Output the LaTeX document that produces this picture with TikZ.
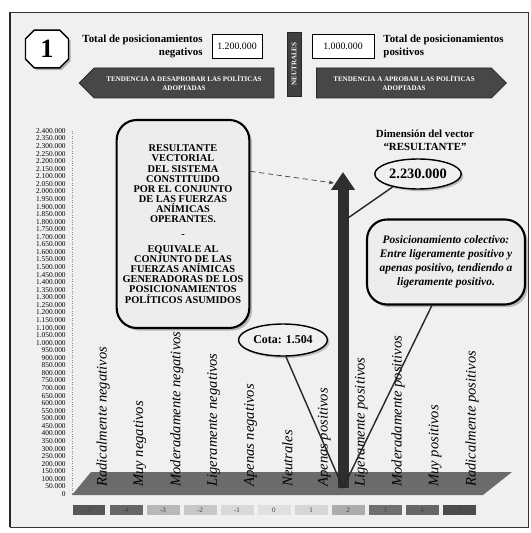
\documentclass[tikz,border=0pt]{standalone}
\usepackage{fontspec}
\setmainfont{Liberation Serif}
\usetikzlibrary{arrows.meta,positioning,shapes.geometric,shapes.misc,shapes.symbols,shadows}

% axis value: #1 millions, #2 thousands
\newcommand{\axisval}[2]{%
  \ifnum#1=0 #2.000%
  \else\ifnum#2=0 #1.000.000%
  \else\ifnum#2<100 #1.0#2.000%
  \else #1.#2.000\fi\fi\fi}

\begin{document}
\begin{tikzpicture}[
  x=0.02cm, y=-0.02cm,
  badge/.style={draw, thick, chamfered rectangle, chamfered rectangle xsep=2.5pt, chamfered rectangle ysep=2.5pt, fill=white, minimum width=0.86cm, minimum height=0.74cm, font=\fontsize{15}{15}\selectfont\bfseries, drop shadow={shadow xshift=1.2pt, shadow yshift=-1.2pt, fill=black!55}},
  toptext/.style={inner sep=0pt, font=\fontsize{6.2}{7.4}\selectfont\bfseries},
  sumbox/.style={draw, fill=white, minimum height=0.48cm, inner sep=1pt, font=\fontsize{5.6}{6}\selectfont},
  banner/.style={signal, draw=black!85, fill=black!72, text=white, align=center, minimum height=0.6cm, inner sep=1pt, font=\fontsize{4}{4.8}\selectfont\bfseries},
  callout/.style={draw, very thick, rounded corners=0.4cm, fill=black!7, align=center, drop shadow={shadow xshift=1.5pt, shadow yshift=-1.5pt, fill=black!50}},
  oval/.style={draw, thick, ellipse, fill=black!6, inner sep=1pt, drop shadow={shadow xshift=1.2pt, shadow yshift=-1.2pt, fill=black!45}},
  axislab/.style={anchor=east, inner sep=0pt, font=\fontsize{4.2}{4.2}\selectfont},
  catlab/.style={rotate=90, anchor=west, inner sep=0pt, font=\fontsize{8.3}{8.3}\selectfont\itshape},
  scalebox/.style={minimum width=0.66cm, minimum height=0.2cm, inner sep=0pt, text=black!75, font=\fontsize{4}{4}\selectfont},
  pointer/.style={black!85, thick},
  vecarrow/.style={black!82, line width=0.22cm, -{Triangle[length=0.36cm, width=0.46cm]}}
]
\useasboundingbox (0,0) rectangle (530,533);
% frame and background
\fill[black!6] (10,12) rectangle (528,527);
\draw[black!80] (10,12) rectangle (528,527);
\draw[black!85, line width=1.6pt] (10,12) -- (10,527);

% header
\node[badge] (badge) at (47,49) {1};
\node[sumbox, minimum width=1.0cm] (negbox) at (237,46) {1.200.000};
\node[toptext, align=right, left=5pt of negbox] (negtext) {Total de posicionamientos\\negativos};
\node[sumbox, minimum width=1.24cm] (posbox) at (343,46) {1.000.000};
\node[toptext, align=left, right=5pt of posbox] (postext) {Total de posicionamientos\\positivos};
\node[draw=black!85, fill=black!75, text=white, rotate=90, minimum width=1.28cm, minimum height=0.28cm, inner sep=0pt, font=\fontsize{4}{4}\selectfont\bfseries] (centbar) at (294,64) {NEUTRALES};
\node[banner, signal to=west, minimum width=3.9cm] (negbanner) at (184,83) {TENDENCIA A DESAPROBAR LAS POLÍTICAS\\ADOPTADAS};
\node[banner, signal to=east, minimum width=3.8cm] (posbanner) at (404,83) {TENDENCIA A APROBAR LAS POLÍTICAS\\ADOPTADAS};

% y axis
\draw[densely dotted, black!45] (72,131) -- (72,494);
\node[axislab] (ylab0) at (66,494) {0};
\foreach \i in {1,...,48}{
  \pgfmathtruncatemacro\mil{int(\i/20)}
  \pgfmathtruncatemacro\thou{mod(\i,20)*50}
  \node[axislab] (ylab\i) at (66,{494-7.5625*\i}) {\axisval{\mil}{\thou}};
}

% floor
\fill[black!58] (72,495) -- (91,472) -- (512,472) -- (483,495) -- cycle;

% categories
\foreach \lab [count=\i from 0] in {Radicalmente negativos, Muy negativos, Moderadamente negativos, Ligeramente negativos, Apenas negativos, Neutrales, Apenas positivos, Ligeramente positivos, Moderadamente positivos, Muy positivos, Radicalmente positivos}
  \node[catlab] (cat\i) at ({103+36.9*\i},487) {\lab};

% scale
\foreach \num/\shade [count=\i from 0] in {-5/66, -4/60, -3/28, -2/22, -1/15, 0/12, 1/16, 2/32, 3/56, 4/60, 5/70}
  \node[scalebox, fill=black!\shade] (sq\i) at ({89+37*\i},510) {\num};

% resultant vector
\coordinate (vbase) at (343,488);
\coordinate (vtip) at (343,172);
\coordinate (vhead) at (334,183);
\coordinate (vmid) at (348,218);
\draw[vecarrow] (vbase) -- (vtip);

% callouts
\node[callout, minimum width=2.56cm, minimum height=4.16cm, font=\fontsize{5.9}{5.8}\selectfont\bfseries] (resbox) at (183,224)
  {RESULTANTE\\VECTORIAL\\DEL SISTEMA\\CONSTITUIDO\\POR EL CONJUNTO\\DE LAS FUERZAS\\ANÍMICAS\\OPERANTES.\\[2.5pt]-\\[2.5pt]EQUIVALE AL\\CONJUNTO DE LAS\\FUERZAS ANÍMICAS\\GENERADORAS DE LOS\\POSICIONAMIENTOS\\POLÍTICOS ASUMIDOS};
\node[align=center, inner sep=0pt, font=\fontsize{6.2}{7.4}\selectfont\bfseries] (title) at (425,140) {Dimensión del vector\\``RESULTANTE''};
\node[oval, minimum width=1.6cm, minimum height=0.6cm, font=\fontsize{8.2}{8.2}\selectfont\bfseries] (total) at (418,174) {2.230.000};
\node[callout, minimum width=3.16cm, minimum height=1.7cm, font=\fontsize{6.5}{8}\selectfont\bfseries\itshape] (colect) at (446,262)
  {Posicionamiento colectivo:\\Entre ligeramente positivo y\\apenas positivo, tendiendo a\\ligeramente positivo.};
\node[oval, minimum width=1.6cm, minimum height=0.64cm, font=\fontsize{6.8}{6.8}\selectfont\bfseries] (cota) at (283,340) {Cota: 1.504};

% connectors
\draw[black!75, densely dashed, -{Stealth[length=3pt]}] (resbox.38) -- (vhead);
\draw[pointer] (total.207) -- (vmid);
\draw[pointer] (cota.-80) -- (vbase);
\draw[pointer] (colect.252) -- (vbase);
\end{tikzpicture}
\end{document}
